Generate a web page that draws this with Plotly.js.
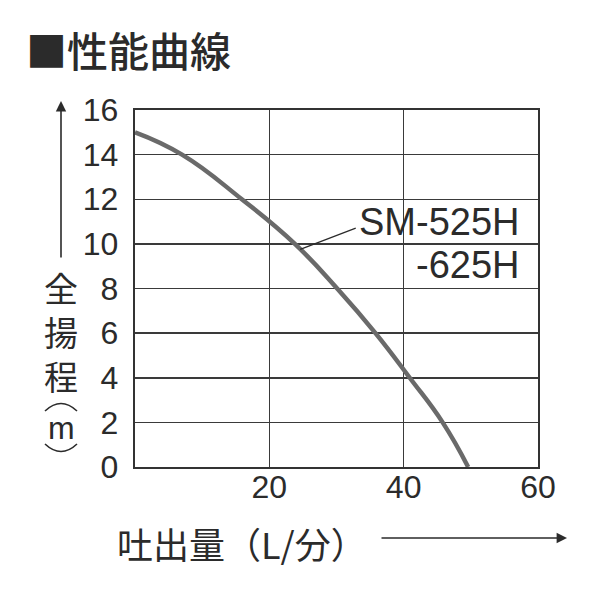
<!DOCTYPE html>
<html>
<head>
<meta charset="utf-8">
<script src="https://cdn.plot.ly/plotly-3.0.1.min.js"></script>
<style>
  html, body { margin: 0; padding: 0; background: #fff; }
  #graph { width: 600px; height: 600px; }
</style>
</head>
<body>
<div id="graph"></div>
<script>
// flow (L/min) vs total head (m)
var flow = [0, 7.0, 15.9, 23.8, 30.1, 35.8, 40.9, 45.8, 49.6];
var head = [15.0, 14, 12, 10, 8, 6, 4, 2, 0];

var xTicks = [20, 40, 60];
var yTicks = [0, 2, 4, 6, 8, 10, 12, 14, 16];

var modelLines = ['SM-525H', '-625H'];
var yTitle = '全<br>揚<br>程';

var W = 600, H = 600;
var L = 135, R = 538, T = 110, B = 467;

// pixel -> paper helpers for the decorations outside the plot
function px(x) { return (x - L) / (R - L); }
function py(y) { return (B - y) / (B - T); }

var numFont = 'Liberation Sans, Arial, sans-serif';
var cjkFont = 'Noto Sans CJK JP, sans-serif';
var ink = '#2b2b2b';

function plot() {
    const trace = {
        x: flow,
        y: head,
        type: 'scatter',
        mode: 'lines',
        line: { color: '#6a6a6a', width: 4.5, shape: 'spline', smoothing: 1.3 },
        hoverinfo: 'skip'
    };

    const annotations = [];

    // vertical y-axis title
    annotations.push({
        xref: 'paper', yref: 'paper', x: px(61), y: py(331),
        text: yTitle, showarrow: false, xanchor: 'center', yanchor: 'middle',
        font: { family: cjkFont, size: 34, color: ink }
    });
    annotations.push({
        xref: 'paper', yref: 'paper', x: px(61), y: py(428),
        text: 'm', showarrow: false, xanchor: 'center', yanchor: 'middle',
        font: { family: numFont, size: 32, color: ink }
    });

    // up arrow beside the y title
    annotations.push({
        xref: 'paper', yref: 'paper', x: px(61), y: py(101),
        text: '', showarrow: true, arrowhead: 2, arrowsize: 1.3, arrowwidth: 1.6,
        arrowcolor: ink, ax: 0, ay: 158
    });

    // x title and arrow
    annotations.push({
        xref: 'paper', yref: 'paper', x: px(115), y: py(543),
        text: '吐出量（L/分）', showarrow: false, xanchor: 'left', yanchor: 'middle',
        font: { family: cjkFont, size: 36, color: ink }
    });
    annotations.push({
        xref: 'paper', yref: 'paper', x: px(567), y: py(538),
        text: '', showarrow: true, arrowhead: 2, arrowsize: 1.3, arrowwidth: 1.6,
        arrowcolor: ink, ax: -187, ay: 0
    });

    // model label with leader line
    annotations.push({
        x: 24.6, y: 9.75, text: '', showarrow: true, arrowhead: 0,
        arrowwidth: 1.3, arrowcolor: ink, ax: 57, ay: -22
    });
    const labelY = [11.0, 9.05];
    modelLines.forEach(function (t, i) {
        annotations.push({
            x: 57.6, y: labelY[i], text: t, showarrow: false,
            xanchor: 'right', yanchor: 'middle',
            font: { family: numFont, size: 38, color: ink }
        });
    });

    const shapes = [
        // vertical parentheses round the (m)
        {
            type: 'path', xref: 'paper', yref: 'paper',
            path: 'M ' + px(45) + ',' + py(411) + ' Q ' + px(61) + ',' + py(396) + ' ' + px(77) + ',' + py(411),
            line: { color: ink, width: 1.6 }
        },
        {
            type: 'path', xref: 'paper', yref: 'paper',
            path: 'M ' + px(45) + ',' + py(444) + ' Q ' + px(61) + ',' + py(459) + ' ' + px(77) + ',' + py(444),
            line: { color: ink, width: 1.6 }
        }
    ];

    const axisCommon = {
        showgrid: true, gridcolor: '#3a3a3a', gridwidth: 1.5,
        showline: true, mirror: true, linecolor: '#333', linewidth: 2.2,
        zeroline: false, ticks: '', fixedrange: true,
        tickfont: { family: numFont, size: 32, color: ink }
    };

    const layout = {
        width: W, height: H,
        margin: { l: L, r: W - R, t: T, b: H - B },
        paper_bgcolor: '#fff', plot_bgcolor: '#fff',
        showlegend: false,
        title: {
            text: '■性能曲線',
            x: 26 / W, xanchor: 'left', xref: 'container',
            y: 1 - 53 / H, yanchor: 'middle', yref: 'container',
            font: { family: cjkFont, size: 41, color: ink, weight: 500 }
        },
        xaxis: Object.assign({}, axisCommon, {
            range: [0, 60], tickmode: 'array', tickvals: xTicks,
            ticklabelstandoff: -10
        }),
        yaxis: Object.assign({}, axisCommon, {
            range: [0, 16], tickmode: 'array', tickvals: yTicks,
            ticklabelstandoff: 8
        }),
        annotations: annotations,
        shapes: shapes
    };

    Plotly.newPlot('graph', [trace], layout, { staticPlot: true });
}

window.addEventListener("load", plot, false);
</script>
</body>
</html>
